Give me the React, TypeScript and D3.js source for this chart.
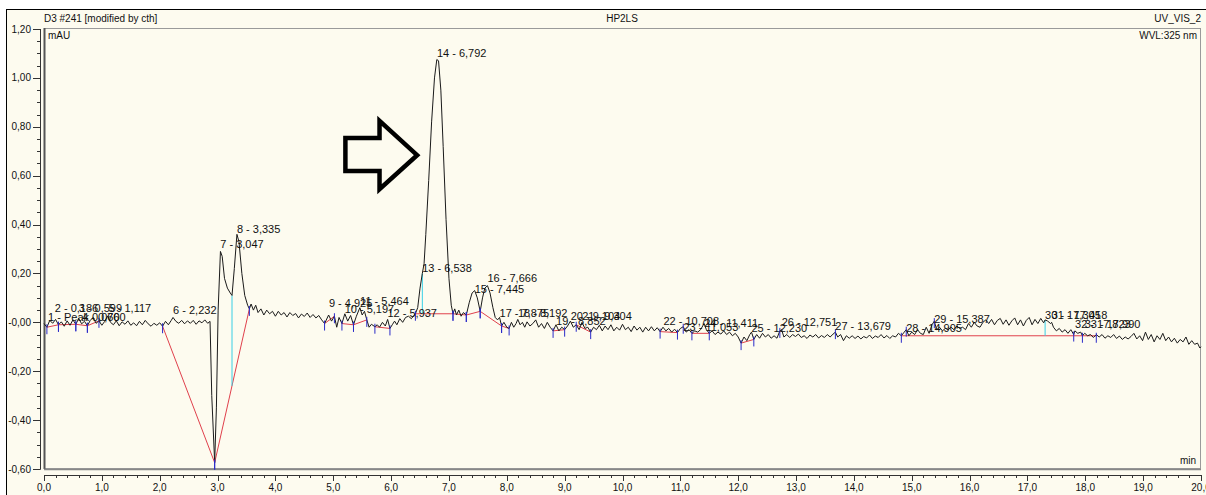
// Chromatogram UV_VIS_2 (HP2LS) with integrated peaks, baselines and delimiters.
import * as d3 from "d3";

const W = 1206;
const H = 495;
const BG = "#fdfbef";

// detector trace: [time (min), signal (mAU)]
const trace: [number, number][] = [
  [0.0, -0.005], [0.05, -0.02], [0.1, 0.008], [0.15, -0.004], [0.2, 0.012], [0.25, -0.01], [0.3, 0.002], [0.35, -0.016],
  [0.4, 0.006], [0.45, -0.012], [0.5, 0.01], [0.55, -0.008], [0.6, 0.016], [0.65, -0.006], [0.7, 0.004], [0.75, -0.014],
  [0.8, 0.008], [0.85, 0.02], [0.9, -0.004], [0.95, 0.006], [1.0, -0.012], [1.05, 0.004], [1.1, 0.026], [1.15, 0.0],
  [1.2, -0.01], [1.25, 0.006], [1.3, -0.014], [1.35, 0.002], [1.4, -0.008], [1.45, 0.006], [1.5, -0.012], [1.55, -0.002],
  [1.6, -0.014], [1.65, 0.004], [1.7, -0.01], [1.75, 0.008], [1.8, -0.006], [1.85, -0.016], [1.9, -0.004], [1.95, -0.012],
  [2.0, -0.002], [2.05, -0.016], [2.1, 0.004], [2.15, -0.01], [2.2, 0.008], [2.23, 0.02], [2.28, 0.004], [2.33, -0.004],
  [2.38, 0.008], [2.43, -0.006], [2.48, 0.006], [2.53, -0.004], [2.58, 0.008], [2.63, -0.008], [2.68, 0.006], [2.73, -0.002],
  [2.78, 0.01], [2.83, -0.004], [2.87, 0.004], [2.9, -0.3], [2.95, -0.574], [2.98, -0.35], [3.01, 0.05], [3.05, 0.29],
  [3.08, 0.27], [3.12, 0.18], [3.17, 0.14], [3.22, 0.12], [3.25, 0.11], [3.29, 0.22], [3.335, 0.36], [3.37, 0.33],
  [3.42, 0.2], [3.47, 0.11], [3.52, 0.07], [3.55, 0.055], [3.58, 0.075], [3.62, 0.05], [3.66, 0.07], [3.7, 0.04],
  [3.75, 0.055], [3.8, 0.03], [3.85, 0.05], [3.9, 0.035], [3.95, 0.045], [4.0, 0.025], [4.05, 0.045], [4.1, 0.03],
  [4.15, 0.04], [4.2, 0.022], [4.25, 0.04], [4.3, 0.028], [4.35, 0.036], [4.4, 0.018], [4.45, 0.034], [4.5, 0.024],
  [4.55, 0.038], [4.6, 0.02], [4.65, 0.032], [4.7, 0.018], [4.75, 0.028], [4.8, 0.01], [4.85, -0.005], [4.92, 0.03],
  [4.97, 0.005], [5.02, 0.025], [5.06, -0.02], [5.1, 0.02], [5.15, -0.005], [5.2, 0.035], [5.25, 0.005], [5.3, 0.028],
  [5.35, -0.01], [5.4, 0.025], [5.46, 0.06], [5.5, 0.03], [5.54, 0.045], [5.58, 0.01], [5.62, -0.02], [5.66, -0.008],
  [5.72, -0.018], [5.76, -0.01], [5.8, -0.02], [5.85, 0.0], [5.9, -0.015], [5.94, 0.012], [5.98, -0.025], [6.02, -0.01],
  [6.06, 0.005], [6.1, -0.01], [6.15, 0.015], [6.2, 0.0], [6.25, 0.02], [6.3, 0.025], [6.35, 0.015], [6.42, 0.035],
  [6.46, 0.06], [6.5, 0.14], [6.54, 0.2], [6.57, 0.24], [6.6, 0.36], [6.65, 0.58], [6.7, 0.82], [6.75, 1.0],
  [6.79, 1.075], [6.82, 1.07], [6.86, 0.95], [6.9, 0.72], [6.95, 0.42], [7.0, 0.18], [7.04, 0.07], [7.07, 0.035],
  [7.1, 0.055], [7.13, 0.03], [7.17, 0.05], [7.21, 0.025], [7.25, 0.04], [7.3, 0.03], [7.35, 0.08], [7.4, 0.12],
  [7.445, 0.13], [7.49, 0.1], [7.54, 0.045], [7.58, 0.1], [7.62, 0.14], [7.666, 0.15], [7.71, 0.12], [7.76, 0.06],
  [7.8, 0.02], [7.84, 0.01], [7.875, 0.02], [7.91, -0.015], [7.95, 0.0], [8.0, -0.02], [8.04, -0.025], [8.08, 0.0],
  [8.12, -0.02], [8.16, -0.005], [8.19, 0.012], [8.23, -0.01], [8.27, 0.0], [8.31, -0.02], [8.35, 0.002], [8.4, -0.015],
  [8.45, -0.005], [8.5, 0.01], [8.55, -0.02], [8.6, -0.005], [8.65, -0.025], [8.7, 0.0], [8.75, -0.02], [8.8, -0.035],
  [8.85, -0.01], [8.9, -0.035], [8.95, -0.02], [9.0, -0.03], [9.05, -0.015], [9.1, 0.005], [9.15, -0.02], [9.2, -0.01],
  [9.25, -0.03], [9.3, 0.0], [9.35, -0.025], [9.4, -0.02], [9.45, -0.04], [9.5, -0.02], [9.55, -0.03], [9.6, -0.012],
  [9.65, -0.035], [9.7, -0.015], [9.75, -0.03], [9.8, -0.01], [9.85, -0.035], [9.9, -0.02], [9.95, -0.032], [10.0, -0.008],
  [10.05, -0.03], [10.1, -0.02], [10.15, -0.038], [10.2, -0.015], [10.25, -0.032], [10.3, -0.02], [10.35, -0.04], [10.4, -0.02],
  [10.45, -0.035], [10.5, -0.018], [10.55, -0.035], [10.6, -0.022], [10.65, -0.038], [10.7, -0.02], [10.75, -0.035], [10.8, -0.025],
  [10.85, -0.04], [10.9, -0.028], [10.95, -0.042], [11.0, -0.025], [11.05, -0.018], [11.1, -0.04], [11.15, -0.03], [11.2, -0.045],
  [11.25, -0.035], [11.3, -0.04], [11.35, -0.03], [11.41, -0.005], [11.45, -0.03], [11.5, -0.045], [11.55, -0.035], [11.6, -0.05],
  [11.65, -0.04], [11.7, -0.048], [11.75, -0.035], [11.8, -0.05], [11.85, -0.04], [11.9, -0.055], [11.95, -0.045], [12.0, -0.06],
  [12.05, -0.085], [12.1, -0.06], [12.15, -0.075], [12.2, -0.05], [12.23, -0.04], [12.27, -0.07], [12.32, -0.05], [12.37, -0.065],
  [12.42, -0.045], [12.47, -0.06], [12.52, -0.05], [12.57, -0.065], [12.62, -0.055], [12.67, -0.065], [12.72, -0.035], [12.75, -0.03],
  [12.79, -0.06], [12.84, -0.05], [12.89, -0.062], [12.94, -0.05], [12.99, -0.058], [13.04, -0.048], [13.09, -0.062], [13.14, -0.055],
  [13.19, -0.066], [13.24, -0.052], [13.29, -0.06], [13.34, -0.05], [13.39, -0.064], [13.44, -0.054], [13.49, -0.062], [13.54, -0.05],
  [13.59, -0.06], [13.64, -0.048], [13.68, -0.04], [13.72, -0.06], [13.77, -0.05], [13.82, -0.075], [13.87, -0.055], [13.92, -0.065],
  [13.97, -0.055], [14.02, -0.066], [14.07, -0.056], [14.12, -0.068], [14.17, -0.058], [14.22, -0.064], [14.27, -0.052], [14.32, -0.066],
  [14.37, -0.056], [14.42, -0.062], [14.47, -0.05], [14.52, -0.064], [14.57, -0.054], [14.62, -0.066], [14.67, -0.055], [14.72, -0.06],
  [14.77, -0.045], [14.82, -0.055], [14.87, -0.04], [14.905, -0.03], [14.95, -0.055], [15.0, -0.04], [15.05, -0.05], [15.1, -0.03],
  [15.15, -0.045], [15.2, -0.05], [15.25, -0.02], [15.3, -0.045], [15.35, -0.01], [15.39, 0.005], [15.43, -0.03], [15.48, -0.02],
  [15.53, -0.035], [15.58, -0.025], [15.63, -0.03], [15.68, -0.02], [15.73, -0.03], [15.78, -0.015], [15.83, -0.025], [15.88, -0.02],
  [15.93, -0.03], [15.98, -0.005], [16.03, -0.02], [16.08, 0.0], [16.13, -0.015], [16.18, -0.02], [16.23, 0.0], [16.28, 0.01],
  [16.33, -0.005], [16.38, 0.012], [16.43, -0.01], [16.48, 0.008], [16.53, 0.016], [16.58, -0.008], [16.63, 0.01], [16.68, -0.012],
  [16.73, 0.006], [16.78, 0.018], [16.83, -0.01], [16.88, 0.01], [16.93, -0.015], [16.98, 0.008], [17.03, 0.02], [17.08, -0.01],
  [17.13, 0.012], [17.18, -0.005], [17.23, 0.016], [17.28, -0.002], [17.305, 0.01], [17.35, 0.005], [17.4, -0.005], [17.418, 0.0],
  [17.45, -0.02], [17.5, -0.035], [17.55, -0.025], [17.6, -0.04], [17.65, -0.03], [17.7, -0.045], [17.75, -0.03], [17.8, -0.05],
  [17.82, -0.035], [17.87, -0.045], [17.92, -0.04], [17.95, -0.055], [17.99, -0.045], [18.04, -0.055], [18.09, -0.05], [18.14, -0.062],
  [18.19, -0.05], [18.24, -0.06], [18.29, -0.05], [18.34, -0.065], [18.39, -0.055], [18.44, -0.062], [18.49, -0.05], [18.54, -0.066],
  [18.59, -0.056], [18.64, -0.07], [18.69, -0.06], [18.74, -0.068], [18.79, -0.058], [18.84, -0.045], [18.89, -0.068], [18.94, -0.055],
  [18.99, -0.075], [19.04, -0.04], [19.09, -0.07], [19.14, -0.05], [19.19, -0.08], [19.24, -0.055], [19.29, -0.07], [19.34, -0.045],
  [19.39, -0.075], [19.44, -0.06], [19.49, -0.08], [19.54, -0.065], [19.59, -0.085], [19.64, -0.07], [19.69, -0.08], [19.74, -0.06],
  [19.79, -0.09], [19.84, -0.075], [19.89, -0.09], [19.94, -0.085], [19.98, -0.105], [20.0, -0.1],
];

// peak table: number, retention time (min), height where the label sits (mAU)
const peakNo = [1, 2, 3, 4, 5, 6, 7, 8, 9, 10, 11, 12, 13, 14, 15, 16, 17, 18, 19, 20, 21, 22, 23, 24, 25, 26, 27, 28, 29, 30, 31, 32, 33];
const peakRt = [0.07, 0.186, 0.599, 0.66, 1.117, 2.232, 3.047, 3.335, 4.925, 5.197, 5.464, 5.937, 6.538, 6.792, 7.445, 7.666, 7.875,
  8.192, 8.852, 9.104, 9.304, 10.708, 11.053, 11.411, 12.23, 12.751, 13.679, 14.905, 15.387, 17.305, 17.418, 17.823, 17.99];
const peakLabelAt = [0.004, 0.041, 0.041, 0.004, 0.041, 0.033, 0.303, 0.365, 0.061, 0.037, 0.07, 0.02, 0.205, 1.086, 0.119, 0.164, 0.02,
  0.02, -0.012, 0.008, 0.008, -0.012, -0.037, -0.02, -0.041, -0.016, -0.033, -0.041, -0.004, 0.012, 0.012, -0.025, -0.025];
const peakName: Record<number, string> = { 1: "Peak" };

// integration baselines: [t1, v1, t2, v2]
const baselines: [number, number, number, number][] = [
  [0.05, -0.02, 0.25, -0.01], [0.25, -0.01, 0.55, -0.008], [0.55, -0.008, 0.75, -0.014], [0.75, -0.014, 0.95, 0.006],
  [2.05, -0.016, 2.95, -0.574], [2.95, -0.574, 3.55, 0.055],
  [4.85, -0.005, 5.02, 0.025], [5.15, -0.005, 5.35, -0.01], [5.35, -0.01, 5.58, 0.01], [5.72, -0.018, 5.98, -0.025],
  [6.42, 0.035, 7.07, 0.035], [7.07, 0.035, 7.3, 0.03], [7.3, 0.03, 7.54, 0.045], [7.54, 0.045, 7.91, -0.015], [7.91, -0.015, 8.04, -0.025],
  [8.8, -0.035, 9.0, -0.03], [9.2, -0.01, 9.45, -0.04], [10.65, -0.038, 10.95, -0.042], [11.2, -0.045, 11.5, -0.045],
  [12.05, -0.085, 12.27, -0.07], [14.82, -0.055, 18.19, -0.055],
];
// extra peak delimiters: [t, v]
const delimiters: [number, number][] = [
  [12.72, -0.035], [13.68, -0.04], [14.905, -0.03], [15.39, 0.005], [17.8, -0.05], [17.95, -0.055], [11.05, -0.018],
];
// perpendicular drops: [t, top, bottom]
const drops: [number, number, number][] = [[3.25, 0.11, -0.26], [6.54, 0.2, 0.035], [17.305, 0.01, -0.055]];

// hand-drawn arrow pointing at peak 14, in chart units
const arrow: [number, number][] = [
  [5.21, 0.754], [5.8, 0.754], [5.8, 0.824], [6.45, 0.684], [5.8, 0.545], [5.8, 0.619], [5.21, 0.619],
];

const yTicks = [1.2, 1.0, 0.8, 0.6, 0.4, 0.2, 0.0, -0.2, -0.4, -0.6];
const yTickLabels = ["1,20", "1,00", "0,80", "0,60", "0,40", "0,20", "-0,00", "-0,20", "-0,40", "-0,60"];
const xTicks = [0, 1, 2, 3, 4, 5, 6, 7, 8, 9, 10, 11, 12, 13, 14, 15, 16, 17, 18, 19, 20];
const xTickLabels = ["0,0", "1,0", "2,0", "3,0", "4,0", "5,0", "6,0", "7,0", "8,0", "9,0", "10,0", "11,0", "12,0", "13,0",
  "14,0", "15,0", "16,0", "17,0", "18,0", "19,0", "20,0"];

const x = d3.scaleLinear().domain([0, 20]).range([44, 1201]);
const y = d3.scaleLinear().domain([-0.6, 1.2]).range([469, 29]);

const FONT = "'Liberation Sans', Arial, sans-serif";
const RED = "#e0404c";
const BLUE = "#2a2ac8";
const CYAN = "#38cfe6";

export default function App() {
  const line = d3.line<[number, number]>().x((d) => x(d[0])).y((d) => y(d[1]));
  const arrowPath = d3.line<[number, number]>().x((d) => x(d[0])).y((d) => y(d[1]))(arrow) + "Z";
  const yMinor = d3.range(-0.6, 1.2001, 0.05);
  const xMinor = d3.range(0, 20.001, 0.2);
  const ticks: [number, number][] = [];
  baselines.forEach((b) => { ticks.push([b[0], b[1]], [b[2], b[3]]); });
  delimiters.forEach((d) => ticks.push(d));
  const fmt = (t: number) => t.toFixed(3).replace(".", ",");

  return (
    <div style={{ position: "absolute", left: 0, top: 0, width: W, height: H, background: "#fff" }}>
      <svg width={W} height={H} style={{ display: "block" }} fontFamily={FONT}>
        <rect x={6.5} y={9.5} width={W} height={H} fill={BG} stroke="#000" strokeWidth={1} />

        {/* header */}
        <text x={44} y={22} fontSize={10} fill="#111">D3 #241 [modified by cth]</text>
        <text x={622} y={22} fontSize={10} fill="#111" textAnchor="middle">HP2LS</text>
        <text x={1201} y={22} fontSize={10} fill="#111" textAnchor="end">UV_VIS_2</text>

        {/* plot frame */}
        <rect x={44.5} y={28.5} width={1156} height={440} fill={BG} stroke="#9a9a9a" strokeWidth={1} />
        <line x1={44.5} x2={44.5} y1={28} y2={469} stroke="#555" strokeWidth={2} />
        <line x1={44} x2={1201} y1={469.5} y2={469.5} stroke="#888" strokeWidth={1.5} />
        <text x={48} y={39} fontSize={10} fill="#111">mAU</text>
        <text x={1197} y={39} fontSize={10} fill="#111" textAnchor="end">WVL:325 nm</text>
        <text x={1196} y={464} fontSize={10} fill="#111" textAnchor="end">min</text>

        {/* y axis */}
        <line x1={40.5} x2={40.5} y1={y(1.2)} y2={y(-0.6)} stroke="#333" />
        {yMinor.map((v) => (
          <line key={"ym" + v} x1={37} x2={40.5} y1={Math.round(y(v)) + 0.5} y2={Math.round(y(v)) + 0.5} stroke="#333" />
        ))}
        {yTicks.map((v, i) => (
          <g key={"y" + v}>
            <line x1={33} x2={40.5} y1={Math.round(y(v)) + 0.5} y2={Math.round(y(v)) + 0.5} stroke="#333" />
            <text x={31} y={y(v) + 3.5} fontSize={10} fill="#111" textAnchor="end">{yTickLabels[i]}</text>
          </g>
        ))}

        {/* x axis */}
        <line x1={x(0)} x2={x(20)} y1={475.5} y2={475.5} stroke="#333" />
        {xMinor.map((t) => (
          <line key={"xm" + t} x1={Math.round(x(t)) + 0.5} x2={Math.round(x(t)) + 0.5} y1={475} y2={478} stroke="#333" />
        ))}
        {xTicks.map((t, i) => (
          <g key={"x" + t}>
            <line x1={Math.round(x(t)) + 0.5} x2={Math.round(x(t)) + 0.5} y1={475} y2={481} stroke="#333" />
            <text x={x(t)} y={491} fontSize={10} fill="#111" textAnchor="middle">{xTickLabels[i]}</text>
          </g>
        ))}

        {/* baselines and drops */}
        {baselines.map((b, i) => (
          <line key={"b" + i} x1={x(b[0])} y1={y(b[1])} x2={x(b[2])} y2={y(b[3])} stroke={RED} strokeWidth={1} />
        ))}
        {drops.map((d, i) => (
          <line key={"d" + i} x1={x(d[0])} x2={x(d[0])} y1={y(d[1])} y2={y(d[2])} stroke={CYAN} strokeWidth={1} />
        ))}

        {/* trace */}
        <path d={line(trace) ?? ""} fill="none" stroke="#1a1a1a" strokeWidth={1} />

        {/* delimiters */}
        {ticks.map((d, i) => (
          <line key={"t" + i} x1={x(d[0])} x2={x(d[0])} y1={y(d[1]) - 3} y2={y(d[1]) + 7} stroke={BLUE} strokeWidth={1} />
        ))}

        {/* peak labels */}
        {peakNo.map((n, i) => (
          <text key={"p" + n} x={x(peakRt[i])} y={y(peakLabelAt[i])} fontSize={11} fill="#111">
            {`${n} - ${peakName[n] ? peakName[n] + " " : ""}${fmt(peakRt[i])}`}
          </text>
        ))}

        {/* arrow annotation */}
        <path d={arrowPath} fill="none" stroke="#000" strokeWidth={4.5} strokeLinejoin="miter" />
      </svg>
    </div>
  );
}
